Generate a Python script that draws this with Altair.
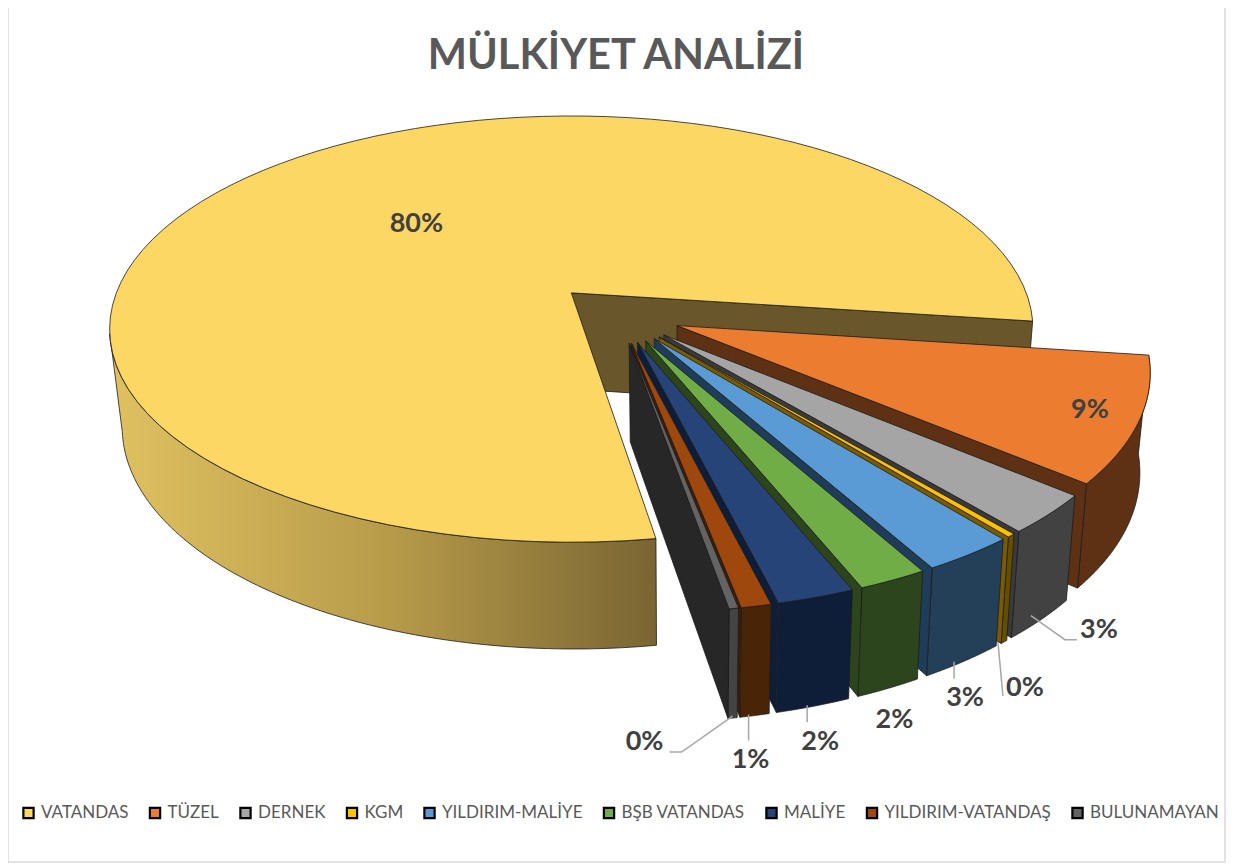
import math
import altair as alt

names = ["VATANDAS", "TÜZEL", "DERNEK", "KGM", "YILDIRIM-MALİYE", "BŞB VATANDAS", "MALİYE", "YILDIRIM-VATANDAŞ", "BULUNAMAYAN"]
shares = [79.6, 9.13, 2.85, 0.25, 2.75, 2.03, 2.25, 0.87, 0.27]
tops = ["#FCD764", "#EC7C30", "#A5A5A5", "#FFC000", "#5B9BD5", "#70AD47", "#264478", "#9E480E", "#636363"]
walls = ["#6A562B", "#5F3114", "#424242", "#664D00", "#243F58", "#2D451C", "#0F1E38", "#4A2407", "#444444"]
near_walls = ["#6A562B", "#5F3114", "#3A3A3A", "#7A5C00", "#1F3D58", "#2D451C", "#0F1E38", "#3F1D06", "#272727"]

START = 171.1     # bearing of the first slice, clockwise from the back of the pie
EXPLODE = 0.139
CENTRE = (0.100, 0.0966)
W, H = 1218, 855

def project(u, v):
    d = 1 - 0.17 * v
    return [571 + 455 * u / d - 8, 293 + 207 * v / d - 8]

def drop(p):
    x, y = p[0] + 8, p[1] + 8
    return [x + (680 - x) * 0.022 - 8, y * 1.042 + 84 - 8]

def polar(b):
    r = math.radians(b)
    return math.sin(r), -math.cos(r)

def feature(points, name, kind="Polygon"):
    coords = [points + [points[0]]] if kind == "Polygon" else points
    return {"type": "Feature", "properties": {"name": name},
            "geometry": {"type": kind, "coordinates": coords}}

slices = []
angle = START
for i, (name, share) in enumerate(zip(names, shares)):
    sweep = share / sum(shares) * 360
    mid = angle + sweep / 2
    s, t = polar(mid)
    slices.append({"name": name, "b0": angle, "b1": angle + sweep, "mid": mid, "r": 1.0 if i == 0 else 0.99,
                   "c": (CENTRE[0] + EXPLODE * s, CENTRE[1] + EXPLODE * t)})
    angle += sweep

def rim(sl, b, f=1.0):
    s, t = polar(b)
    return project(sl["c"][0] + sl["r"] * f * s, sl["c"][1] + sl["r"] * f * t)

def arc(sl, b0=None, b1=None, n=90):
    a, z = sl["b0"] if b0 is None else b0, sl["b1"] if b1 is None else b1
    return [rim(sl, a + (z - a) * i / n) for i in range(n + 1)]

STROKE = dict(stroke="#1c1c1c", strokeWidth=0.8)
GOLD = alt.Gradient(gradient="linear", x1=0, x2=1, y1=0, y2=0,
                    stops=[alt.GradientStop(color="#E0C161", offset=0),
                           alt.GradientStop(color="#B89C4A", offset=0.5),
                           alt.GradientStop(color="#7A6533", offset=1)])
fill_scale = alt.Scale(domain=names, range=tops)
legend = alt.Legend(title=None, orient="none", legendX=12, legendY=796, columns=9, symbolType="square",
                    symbolSize=105, symbolStrokeColor="black", symbolStrokeWidth=2.2, labelFont="Lato",
                    labelFontSize=17, labelColor="#595959", labelOffset=4, columnPadding=15.5,
                    labelLimit=300, symbolOpacity=1)
layers = []
for i, sl in enumerate(slices):
    top_arc = arc(sl)
    apex = project(*sl["c"])
    corner = rim(sl, sl["b1"])
    if i == 0:
        seen = arc(sl, sl["b0"], 259)
        outer = seen + [drop(p) for p in reversed(seen)]
        layers.append(alt.Chart(alt.Data(values=[feature(outer, sl["name"])])).mark_geoshape(fill=GOLD, **STROKE))
    else:
        outer = top_arc + [drop(p) for p in reversed(top_arc)]
        layers.append(alt.Chart(alt.Data(values=[feature(outer, sl["name"])])).mark_geoshape(fill=walls[i], **STROKE))
    radial = [apex, corner, drop(corner), drop(apex)]
    layers.append(alt.Chart(alt.Data(values=[feature(radial, sl["name"])])).mark_geoshape(fill=near_walls[i], **STROKE))
    top = [apex] + top_arc
    layers.append(alt.Chart(alt.Data(values=[feature(top, sl["name"])])).mark_geoshape(**STROKE).encode(
        fill=alt.Fill("properties.name:N", scale=fill_scale, legend=legend, sort=None)))

percent = [f"{round(v)}%" for v in shares]
inside = {0: 0.505, 1: 0.90}
anchor_shift = {2: (-10, -4), 3: (-6, 0), 4: (-9, 0), 6: (-6, -1), 7: (-6, -1), 8: (0, -2)}
offsets = {2: (68, 14), 3: (27, 46), 4: (11, 36), 5: (6, 32), 6: (13, 37), 7: (2, 45), 8: (-88, 26)}
bends = {2: [(34, 24), (46, 24)], 3: [(5, 54)], 4: [(0, 17)], 6: [(0, 17)], 7: [(0, 26)], 8: [(-51, 36), (-63, 36)]}
label_rows, leaders = [], []
for i, sl in enumerate(slices):
    if i in inside:
        p = rim(sl, sl["mid"], inside[i])
    else:
        a = drop(rim(sl, sl["mid"]))
        sx, sy = anchor_shift.get(i, (0, 0))
        a = [a[0] + sx, a[1] + sy]
        p = [a[0] + offsets[i][0], a[1] + offsets[i][1]]
        if i in bends:
            leaders.append(feature([a] + [[a[0] + dx, a[1] + dy] for dx, dy in bends[i]], sl["name"], "LineString"))
    label_rows.append({"x": p[0], "y": p[1], "t": percent[i]})

layers.append(alt.Chart(alt.Data(values=leaders)).mark_geoshape(filled=False, stroke="#A6A6A6", strokeWidth=1.5))
frame = feature([[0, -2], [0, H - 1], [W - 1, H - 1], [W - 1, -2]], "frame", "LineString")
layers.append(alt.Chart(alt.Data(values=[frame])).mark_geoshape(filled=False, stroke="#D9D9D9", strokeWidth=1.5))
layers.append(alt.Chart(alt.Data(values=label_rows)).mark_text(font="Lato", fontWeight="bold", fontSize=27, color="#404040").encode(
    x=alt.X("x:Q", scale=None, axis=None), y=alt.Y("y:Q", scale=None, axis=None), text="t:N"))

chart = alt.layer(*layers).properties(
    width=W, height=H, padding=0, autosize=alt.AutoSizeParams(type="none"),
    projection=alt.Projection(type="identity", scale=1, translate=[0, 0]),
    title=alt.TitleParams("MÜLKİYET ANALİZİ", font="Lato", fontSize=41.5, fontWeight="bold", color="#595959",
                          anchor="middle", frame="group", dx=-1, dy=73),
).configure_view(stroke=None)

chart.save("out.html", embed_options={"renderer": "svg", "actions": False})
